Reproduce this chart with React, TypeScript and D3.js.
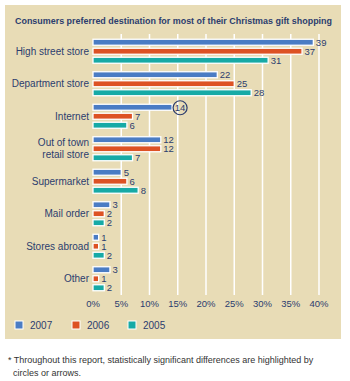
import React from 'react'
import * as d3 from 'd3'

const categories = [
  'High street store',
  'Department store',
  'Internet',
  'Out of town retail store',
  'Supermarket',
  'Mail order',
  'Stores abroad',
  'Other',
]
const years = ['2007', '2006', '2005']
const values2007 = [39, 22, 14, 12, 5, 3, 1, 3]
const values2006 = [37, 25, 7, 12, 6, 2, 1, 1]
const values2005 = [31, 28, 6, 7, 8, 2, 2, 2]
const ticks = [0, 5, 10, 15, 20, 25, 30, 35, 40]
const highlighted = { category: 'Internet', year: '2007' }

const colors = { '2007': '#4a7cc4', '2006': '#dd5224', '2005': '#17aaa6' }
const textColor = '#2c3d6e'

function App() {
  const svgRef = React.useRef(null)
  const width = 350
  const height = 381

  React.useEffect(() => {
    const svg = d3.select(svgRef.current)
    svg.selectAll('*').remove()

    const font = 'Liberation Sans, Arial, sans-serif'

    // panel
    svg
      .append('rect')
      .attr('x', 5)
      .attr('y', 5)
      .attr('width', 336)
      .attr('height', 334)
      .attr('fill', '#e8dcb6')

    svg
      .append('text')
      .attr('x', 15)
      .attr('y', 24)
      .attr('textLength', 317)
      .attr('lengthAdjust', 'spacingAndGlyphs')
      .attr('font-family', font)
      .attr('font-size', 9.5)
      .attr('font-weight', 'bold')
      .attr('fill', textColor)
      .text('Consumers preferred destination for most of their Christmas gift shopping')

    const xScale = d3.scaleLinear().domain([0, 40]).range([93, 319])
    const yScale = d3.scaleBand().domain(categories).range([35, 295])
    const inner = d3.scaleBand().domain(years).range([-13.5, 13.5])

    // gridlines
    svg
      .append('g')
      .selectAll('line')
      .data(ticks.slice(1))
      .enter()
      .append('line')
      .attr('x1', (d) => xScale(d))
      .attr('x2', (d) => xScale(d))
      .attr('y1', 34)
      .attr('y2', 295)
      .attr('stroke', 'white')
      .attr('stroke-width', 1.5)

    // tick labels
    svg
      .append('g')
      .selectAll('text')
      .data(ticks)
      .enter()
      .append('text')
      .attr('x', (d) => xScale(d))
      .attr('y', 307)
      .attr('text-anchor', 'middle')
      .attr('font-family', font)
      .attr('font-size', 9.5)
      .attr('fill', textColor)
      .text((d) => d + '%')

    const seriesValues = { '2007': values2007, '2006': values2006, '2005': values2005 }
    const rows = []
    categories.forEach((c, i) => {
      years.forEach((yr) => {
        rows.push({ category: c, year: yr, value: seriesValues[yr][i] })
      })
    })
    const isHighlighted = (d) => d.category === highlighted.category && d.year === highlighted.year
    const barY = (d) =>
      yScale(d.category) + yScale.bandwidth() / 2 + inner(d.year) + inner.bandwidth() / 2

    // bars
    svg
      .append('g')
      .selectAll('rect')
      .data(rows)
      .enter()
      .append('rect')
      .attr('x', xScale(0))
      .attr('y', (d) => barY(d) - 3)
      .attr('width', (d) => xScale(d.value) - xScale(0))
      .attr('height', 6)
      .attr('fill', (d) => colors[d.year])
      .attr('stroke', 'white')
      .attr('stroke-width', 1.3)

    // value labels
    svg
      .append('g')
      .selectAll('text')
      .data(rows)
      .enter()
      .append('text')
      .attr('x', (d) => xScale(d.value) + (isHighlighted(d) ? 8 : 2.5))
      .attr('y', (d) => barY(d) + 3.5)
      .attr('text-anchor', (d) => (isHighlighted(d) ? 'middle' : 'start'))
      .attr('font-family', font)
      .attr('font-size', 9.5)
      .attr('fill', textColor)
      .text((d) => d.value)

    // significance circle
    const hl = rows.find(isHighlighted)
    svg
      .append('circle')
      .attr('cx', xScale(hl.value) + 8)
      .attr('cy', barY(hl) + 0.5)
      .attr('r', 7)
      .attr('fill', 'none')
      .attr('stroke', textColor)
      .attr('stroke-width', 1.2)

    // category labels
    const catLabels = svg.append('g')
    categories.forEach((c) => {
      const cy = yScale(c) + yScale.bandwidth() / 2
      const lines = c === 'Out of town retail store' ? ['Out of town', 'retail store'] : [c]
      lines.forEach((ln, j) => {
        catLabels
          .append('text')
          .attr('x', 89)
          .attr('y', cy + 3.5 + (j - (lines.length - 1) / 2) * 12)
          .attr('text-anchor', 'end')
          .attr('font-family', font)
          .attr('font-size', 10)
          .attr('fill', textColor)
          .text(ln)
      })
    })

    // legend
    const legendX = [15, 72, 128]
    years.forEach((yr, i) => {
      svg
        .append('rect')
        .attr('x', legendX[i])
        .attr('y', 321)
        .attr('width', 8)
        .attr('height', 8)
        .attr('fill', colors[yr])
        .attr('stroke', 'white')
        .attr('stroke-width', 1)
      svg
        .append('text')
        .attr('x', legendX[i] + 15)
        .attr('y', 329)
        .attr('font-family', font)
        .attr('font-size', 10)
        .attr('fill', textColor)
        .text(yr)
    })

    // footnote
    svg
      .append('text')
      .attr('x', 8)
      .attr('y', 363)
      .attr('font-family', font)
      .attr('font-size', 9)
      .attr('fill', '#333')
      .text('* Throughout this report, statistically significant differences are highlighted by')
    svg
      .append('text')
      .attr('x', 13)
      .attr('y', 376)
      .attr('font-family', font)
      .attr('font-size', 9)
      .attr('fill', '#333')
      .text('circles or arrows.')
  }, [])

  return (
    <svg
      ref={svgRef}
      width={width}
      height={height}
      style={{ position: 'absolute', left: 0, top: 0, background: 'white' }}
    ></svg>
  )
}

export default App
